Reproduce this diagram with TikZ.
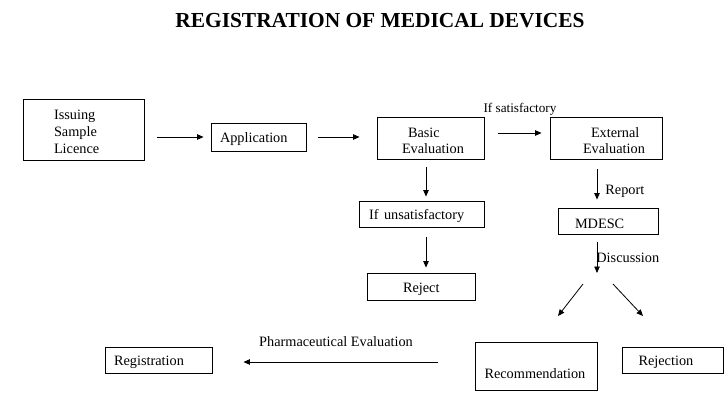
\documentclass[tikz,border=0pt]{standalone}
\usepackage{fontspec}
\setmainfont{Liberation Serif}
\usetikzlibrary{arrows.meta}
\begin{document}
\begin{tikzpicture}[x=1pt,y=-1pt,
  every node/.style={font=\fontsize{14.3}{16.5}\selectfont},
  box/.style={draw=black, line width=0.9pt, align=left, inner ysep=0pt,
    execute at begin node={\hyphenpenalty=10000\rule{0pt}{15pt}}},
  arr/.style={line width=0.8pt, -{Triangle[length=6.5pt,width=5.5pt]}},
  lbl/.style={inner sep=0pt}]
\useasboundingbox (0,0) rectangle (728,416);
\node[font=\bfseries\fontsize{21.4}{24}\selectfont] (title) at (380,21) {REGISTRATION OF MEDICAL DEVICES};

\node[box, text width=59pt, inner xsep=31pt, minimum height=61pt, font=\fontsize{14.3}{17}\selectfont] (issue) at (83.5,129.5) {Issuing\\Sample\\Licence};
\node[box, text width=77pt, inner xsep=9pt, minimum height=28pt] (app) at (258.5,137) {Application};
\node[box, text width=57pt, inner xsep=25pt, minimum height=42pt] (basic) at (430.5,138) {\hspace*{6pt}Basic\\Evaluation};
\node[box, text width=46pt, inner xsep=33pt, minimum height=42pt] (ext) at (606,138) {\hspace*{8pt}\mbox{External}\\\mbox{Evaluation}};
\node[box, text width=105pt, inner xsep=10pt, minimum height=26pt] (unsat) at (421.5,214) {If\hspace{5.5pt}unsatisfactory};
\node[box, text width=36pt, inner xsep=36pt, minimum height=27pt] (reject) at (421,286.5) {Reject};
\node[box, text width=66pt, inner xsep=17pt, minimum height=26pt] (mdesc) at (608,221) {MDESC};
\node[box, text width=89pt, inner xsep=9pt, minimum height=26pt] (reg) at (158.5,360) {Registration};
\node[box, text width=103pt, inner xsep=9.5pt, minimum height=48pt] (rec) at (536,366) {\rule{0pt}{25pt}Recommendation};
\node[box, text width=68pt, inner xsep=16.5pt, minimum height=26pt] (rej) at (672.5,360) {Rejection};

\draw[arr, shorten <=13pt, shorten >=7pt] (issue.east |- app.west) -- (app.west);
\draw[arr, shorten <=12pt, shorten >=17pt] (app.east) -- (basic.west |- app.east);
\draw[arr, shorten <=14pt, shorten >=8pt] ([yshift=5pt]basic.east) -- ([yshift=5pt]ext.west)
  node[lbl, midway, yshift=24pt, xshift=3pt, font=\fontsize{13.2}{15}\selectfont] (sat) {If satisfactory};

\draw[arr, shorten <=8pt, shorten >=4pt] ([xshift=-4.5pt]basic.south) -- ([xshift=-4.5pt]basic.south |- unsat.north);
\draw[arr, shorten <=10pt, shorten >=5pt] ([xshift=4.5pt]unsat.south) -- ([xshift=4.5pt]unsat.south |- reject.north);

\draw[arr, shorten <=10pt, shorten >=8pt] ([xshift=-9pt]ext.south) -- ([xshift=-9pt]ext.south |- mdesc.north)
  node[lbl, pos=0.67, anchor=west, xshift=8pt] (report) {Report};

\coordinate (hub) at (597,273);
\draw[arr, shorten <=8pt] ([xshift=-11pt]mdesc.south) -- (hub)
  node[lbl, pos=0.61, anchor=west, xshift=-1pt] (disc) {Discussion};

\coordinate (l1) at (583,284);
\coordinate (l2) at (558,316);
\coordinate (r1) at (613,284);
\coordinate (r2) at (643,316);
\draw[arr] (l1) -- (l2);
\draw[arr] (r1) -- (r2);

\draw[arr, shorten <=37pt, shorten >=31pt] ([yshift=4pt]rec.west) -- ([yshift=4pt]rec.west -| reg.east)
  node[lbl, midway, yshift=20pt, xshift=-7.5pt] (pharm) {Pharmaceutical Evaluation};
\end{tikzpicture}
\end{document}
